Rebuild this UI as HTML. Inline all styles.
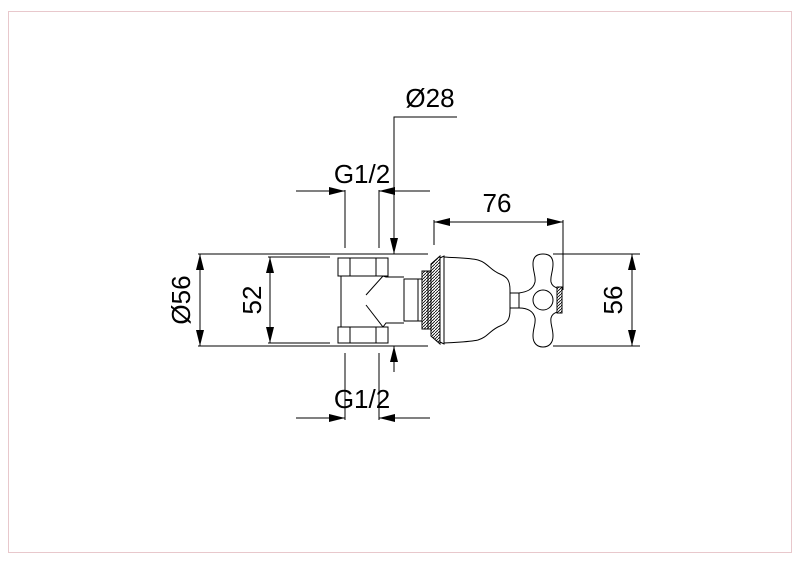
<!DOCTYPE html>
<html><head><meta charset="utf-8"><style>
html,body{margin:0;padding:0;background:#fff;}
svg{display:block;}
text{font-family:"Liberation Sans",sans-serif;font-size:26px;fill:#000;}
</style></head><body>
<svg width="800" height="565" viewBox="0 0 800 565" xmlns="http://www.w3.org/2000/svg">
<defs>
<pattern id="h" width="3" height="3" patternUnits="userSpaceOnUse"><rect width="3" height="3" fill="#fff"/><path d="M0 3L3 0" stroke="#000" stroke-width="0.8"/></pattern>
</defs>
<rect x="8.5" y="11.5" width="783" height="541" fill="none" stroke="#e8c8cc" stroke-width="1"/>
<g stroke="#000" stroke-width="1" fill="none">
<line x1="198" y1="254" x2="428" y2="254"/>
<line x1="198" y1="346" x2="428" y2="346"/>
<line x1="268" y1="257" x2="330" y2="257"/>
<line x1="268" y1="343" x2="330" y2="343"/>
<line x1="553" y1="254" x2="640" y2="254"/>
<line x1="553" y1="346" x2="640" y2="346"/>
<line x1="345" y1="190" x2="345" y2="248"/>
<line x1="379" y1="190" x2="379" y2="248"/>
<line x1="345" y1="353" x2="345" y2="420"/>
<line x1="379" y1="353" x2="379" y2="420"/>
<line x1="434" y1="220" x2="434" y2="245"/>
<line x1="563" y1="220" x2="563" y2="290"/>
<line x1="200" y1="254" x2="200" y2="346"/>
<line x1="270" y1="257" x2="270" y2="343"/>
<line x1="632" y1="254" x2="632" y2="346"/>
<line x1="434" y1="222" x2="563" y2="222"/>
<line x1="296" y1="191" x2="345" y2="191"/>
<line x1="379" y1="191" x2="430" y2="191"/>
<line x1="296" y1="418" x2="345" y2="418"/>
<line x1="379" y1="418" x2="430" y2="418"/>
<polyline points="457,117 394,117 394,254"/>
<line x1="394" y1="346" x2="394" y2="372"/>
<rect x="338" y="258" width="50" height="18"/>
<line x1="350" y1="258" x2="350" y2="276"/><line x1="376" y1="258" x2="376" y2="276"/>
<rect x="338" y="327" width="50" height="16"/>
<line x1="350" y1="327" x2="350" y2="343"/><line x1="376" y1="327" x2="376" y2="343"/>
<line x1="341" y1="276" x2="341" y2="327"/>
<polyline points="383,276 386,277 404,277"/>
<polyline points="383,327 386,323 404,323"/>
<line x1="383" y1="276" x2="366" y2="295"/>
<line x1="383" y1="327" x2="366" y2="305"/>
<rect x="404" y="279" width="18" height="42"/>
<line x1="418" y1="279" x2="418" y2="321"/>
<rect x="422" y="271" width="9" height="58" fill="url(#h)"/>
<line x1="428" y1="271" x2="428" y2="329"/>
<path d="M431 264 L440 256 L440 344 L431 336 Z" fill="url(#h)"/>
<path d="M440 258 L444 256 L444 344 L440 342"/>
<path d="M444 257 C458 258 470 258 478 260 C488 263 490 270 500 274 C507 277 510 280 510 290 L510 310 C510 320 507 323 500 326 C490 330 488 337 478 340 C470 342 458 342 444 343"/>
<rect x="510" y="293" width="9" height="15"/>
<path d="M519 293 C526 292 533 290 535 282 C536 276 533 272 533 264 C533 257 537 254 543 254 C549 254 553 257 553 264 C553 272 550 276 551 282 C552 286 555 287 557 288 L557 312 C555 313 552 314 551 318 C550 324 553 328 553 336 C553 343 549 347 543 347 C537 347 533 343 533 336 C533 328 536 324 535 318 C533 310 526 308 519 308"/>
<circle cx="543" cy="300" r="10"/>
<rect x="557" y="287" width="5" height="26" fill="url(#h)"/>
</g>
<g fill="#000">
<path d="M200 254 l-4 16 h8z"/><path d="M200 346 l-4 -16 h8z"/>
<path d="M270 257 l-4 16 h8z"/><path d="M270 343 l-4 -16 h8z"/>
<path d="M632 254 l-4 16 h8z"/><path d="M632 346 l-4 -16 h8z"/>
<path d="M434 222 l16 -4 v8z"/><path d="M563 222 l-16 -4 v8z"/>
<path d="M345 191 l-16 -4 v8z"/><path d="M379 191 l16 -4 v8z"/>
<path d="M345 418 l-16 -4 v8z"/><path d="M379 418 l16 -4 v8z"/>
<path d="M394 254 l-4 -16 h8z"/><path d="M394 346 l-4 16 h8z"/>
</g>
<text x="430" y="107" text-anchor="middle">Ø28</text>
<text x="362" y="183" text-anchor="middle">G1/2</text>
<text x="497" y="212" text-anchor="middle">76</text>
<text x="362" y="408" text-anchor="middle">G1/2</text>
<text transform="translate(190,300) rotate(-90)" text-anchor="middle">Ø56</text>
<text transform="translate(261,300) rotate(-90)" text-anchor="middle">52</text>
<text transform="translate(622,300) rotate(-90)" text-anchor="middle">56</text>
</svg>
</body></html>
